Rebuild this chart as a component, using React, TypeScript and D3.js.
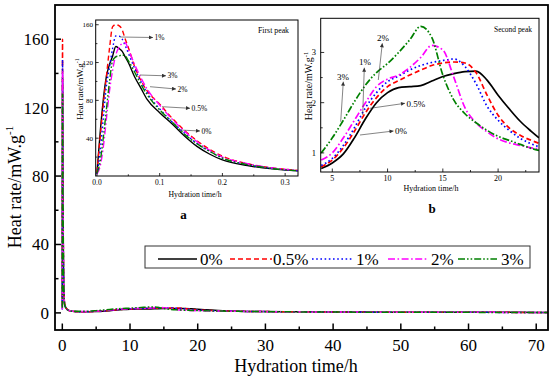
import React from "react";
import * as d3 from "d3";

const seriesNames = ["0%", "0.5%", "1%", "2%", "3%"];

// First peak (inset a), hours
const firstTimes = [0, 0.005, 0.01, 0.015, 0.02, 0.025, 0.03, 0.035, 0.04, 0.045, 0.05, 0.06, 0.07, 0.08, 0.1, 0.12, 0.14, 0.16, 0.18, 0.2, 0.24, 0.28, 0.32];
const first0 = [3, 45, 80, 105, 118, 127, 137, 135, 132, 126, 120, 105, 93, 81, 67, 55, 42, 31, 23, 17, 11, 7.5, 5.5];
const first05 = [4, 40, 75, 105, 135, 158, 160, 159, 155, 145, 136, 116, 101, 90, 76, 61, 48, 37, 28, 21, 13, 8.5, 6];
const first1 = [2, 25, 60, 95, 115, 135, 148, 148, 145, 138, 130, 114, 100, 88, 71, 57, 45, 34, 26, 19, 12, 8, 5.5];
const first2 = [2, 10, 30, 60, 90, 112, 128, 136, 140, 141, 134, 118, 104, 92, 75, 60, 47, 36, 27, 20, 13, 8.5, 6];
const first3 = [3, 15, 40, 70, 100, 122, 126, 127, 128, 127, 122, 110, 97, 86, 70, 57, 44, 34, 26, 19, 12, 8, 5.5];

// Between peaks
const earlyTimes = [0.4, 0.5, 0.75, 1, 1.5, 2, 3];
const early0 = [4.2, 3.2, 1.9, 1.3, 0.9, 0.7, 0.65];
const early05 = [4.5, 3.4, 2.0, 1.4, 0.95, 0.75, 0.68];
const early1 = [4.1, 3.1, 1.9, 1.35, 0.95, 0.78, 0.72];
const early2 = [4.5, 3.4, 2.0, 1.4, 1.0, 0.85, 0.82];
const early3 = [4.1, 3.1, 1.9, 1.35, 1.0, 0.9, 0.95];

// Second peak (inset b)
const secondTimes = [4, 5, 6, 7, 8, 9, 10, 11, 12, 13, 14, 15, 16, 17, 18, 19, 20, 21, 22, 23, 23.7];
const second0 = [0.69, 0.8, 0.98, 1.3, 1.68, 2.0, 2.2, 2.3, 2.32, 2.34, 2.43, 2.52, 2.58, 2.62, 2.63, 2.45, 2.15, 1.88, 1.63, 1.43, 1.3];
const second05 = [0.72, 0.86, 1.1, 1.43, 1.8, 2.1, 2.32, 2.44, 2.55, 2.65, 2.74, 2.79, 2.81, 2.79, 2.6, 2.15, 1.75, 1.5, 1.35, 1.25, 1.19];
const second1 = [0.75, 0.89, 1.15, 1.5, 1.9, 2.2, 2.42, 2.53, 2.65, 2.74, 2.8, 2.84, 2.87, 2.72, 2.38, 1.93, 1.65, 1.45, 1.29, 1.18, 1.12];
const second2 = [0.86, 1.0, 1.3, 1.65, 2.0, 2.32, 2.47, 2.55, 2.7, 2.9, 3.14, 3.05, 2.5, 1.9, 1.6, 1.42, 1.28, 1.2, 1.15, 1.1, 1.08];
const second3 = [1.0, 1.3, 1.65, 2.02, 2.35, 2.6, 2.78, 3.0, 3.25, 3.52, 3.3, 2.55, 2.05, 1.78, 1.6, 1.45, 1.33, 1.25, 1.17, 1.09, 1.05];

// Late tail
const lateTimes = [26, 30, 35, 40, 45, 50, 55, 60, 65, 70, 72];
const late0 = [1.0, 0.8, 0.65, 0.55, 0.48, 0.42, 0.38, 0.35, 0.32, 0.3, 0.3];
const late05 = [0.98, 0.78, 0.63, 0.53, 0.46, 0.41, 0.37, 0.34, 0.31, 0.29, 0.29];
const late1 = [0.95, 0.76, 0.62, 0.52, 0.45, 0.4, 0.36, 0.33, 0.3, 0.28, 0.28];
const late2 = [0.92, 0.74, 0.6, 0.5, 0.44, 0.39, 0.35, 0.32, 0.3, 0.28, 0.28];
const late3 = [0.9, 0.72, 0.58, 0.49, 0.43, 0.38, 0.34, 0.31, 0.29, 0.27, 0.27];

// Ticks
const mainXTicks = [0, 10, 20, 30, 40, 50, 60, 70];
const mainXMinor = [5, 15, 25, 35, 45, 55, 65];
const mainYTicks = [0, 40, 80, 120, 160];
const mainYMinor = [20, 60, 100, 140];
const aXTicks = [0, 0.1, 0.2, 0.3];
const aXMinor = [0.05, 0.15, 0.25];
const aYTicks = [40, 80, 120, 160];
const aYMinor = [20, 60, 100, 140];
const bXTicks = [5, 10, 15, 20];
const bXMinor = [7.5, 12.5, 17.5, 22.5];
const bYTicks = [1, 2, 3];
const bYMinor = [1.5, 2.5];

const firstVals = [first0, first05, first1, first2, first3];
const earlyVals = [early0, early05, early1, early2, early3];
const secondVals = [second0, second05, second1, second2, second3];
const lateVals = [late0, late05, late1, late2, late3];

const colors = ["#000000", "#ff0000", "#0000ff", "#ff00ff", "#008000"];
const dashes = ["none", "5,3", "1.6,2.6", "7,2.5,1.6,2.5", "7,2,1.6,2,1.6,2"];
const FONT = "'Liberation Serif','Times New Roman',serif";

type P = [number, number];

function zip(ts: number[], vs: number[]): P[] {
  return ts.map((t, i) => [t, vs[i]] as P);
}

export default function App() {
  const series = seriesNames.map((name, i) => {
    const first = zip(firstTimes, firstVals[i]);
    const second = zip(secondTimes, secondVals[i]);
    const all = [...first, ...zip(earlyTimes, earlyVals[i]), ...second, ...zip(lateTimes, lateVals[i])];
    return { name, first, second, all, color: colors[i], dash: dashes[i] };
  });

  // main scales
  const x = d3.scaleLinear().domain([-1.08, 71.74]).range([55, 548]);
  const y = d3.scaleLinear().domain([-10, 180]).range([330, 5]);
  // inset a
  const xa = d3.scaleLinear().domain([-0.002, 0.3205]).range([95.7, 298]);
  const ya = d3.scaleLinear().domain([0, 165]).range([176, 20]);
  // inset b
  const xb = d3.scaleLinear().domain([3.95, 23.7]).range([320.7, 539]);
  const yb = d3.scaleLinear().domain([0.62, 3.68]).range([172, 18.3]);

  const lineMain = d3.line<P>().x((d) => x(d[0])).y((d) => y(d[1])).curve(d3.curveMonotoneX);
  const lineA = d3.line<P>().x((d) => xa(d[0])).y((d) => ya(d[1])).curve(d3.curveMonotoneX);
  const lineB = d3.line<P>().x((d) => xb(d[0])).y((d) => yb(d[1])).curve(d3.curveMonotoneX);

  const legendItems = [
    { x1: 158, x2: 197, tx: 200 },
    { x1: 230, x2: 272, tx: 273 },
    { x1: 312, x2: 352, tx: 356 },
    { x1: 388, x2: 427, tx: 431 },
    { x1: 458, x2: 497, tx: 501 },
  ];

  const annA = [
    { t: "1%", x1: 120, y1: 37, x2: 153, y2: 37.5 },
    { t: "3%", x1: 140, y1: 75, x2: 166, y2: 75.8 },
    { t: "2%", x1: 150, y1: 86.7, x2: 176, y2: 89 },
    { t: "0.5%", x1: 162, y1: 106.7, x2: 190, y2: 108.3 },
    { t: "0%", x1: 180, y1: 130, x2: 200, y2: 131 },
  ];
  const annB = [
    { t: "3%", x1: 340.7, y1: 121.7, x2: 343.3, y2: 81.7, tx: 343, ty: 80 },
    { t: "1%", x1: 362.7, y1: 115, x2: 364.3, y2: 67.7, tx: 365, ty: 65 },
    { t: "2%", x1: 378.3, y1: 80, x2: 382.3, y2: 43.3, tx: 383, ty: 41 },
  ];
  const annBH = [
    { t: "0.5%", x1: 370, y1: 108.3, x2: 405, y2: 103.3, tx: 406.5, ty: 106.5 },
    { t: "0%", x1: 360, y1: 135, x2: 393.5, y2: 131, tx: 395, ty: 134 },
  ];

  return (
    <svg width={550} height={378} style={{ position: "absolute", left: 0, top: 0, background: "#fff" }} fontFamily={FONT}>
      <defs>
        <marker id="arr" viewBox="0 0 6 6" refX="6" refY="3" markerWidth="5" markerHeight="4" markerUnits="userSpaceOnUse" orient="auto">
          <path d="M0,0 L6,3 L0,6 z" fill="#333" />
        </marker>
        <clipPath id="clipMain"><rect x={55} y={5} width={493} height={325} /></clipPath>
        <clipPath id="clipA"><rect x={95.7} y={20} width={202.3} height={156} /></clipPath>
        <clipPath id="clipB"><rect x={320.7} y={18.3} width={218.3} height={153.7} /></clipPath>
      </defs>
      <rect x={0} y={0} width={550} height={378} fill="#fff" />

      {/* main curves */}
      <g clipPath="url(#clipMain)">
        {series.map((s) => (
          <path key={s.name} d={lineMain(s.all) || ""} fill="none" stroke={s.color} strokeWidth={1.5} strokeDasharray={s.dash} />
        ))}
      </g>

      {/* main axes */}
      <rect x={55} y={5} width={493} height={325} fill="none" stroke="#000" strokeWidth={1.8} />
      {mainXTicks.map((t) => (
        <g key={"mx" + t}>
          <line x1={x(t)} x2={x(t)} y1={330} y2={323.5} stroke="#000" strokeWidth={1.5} />
          <text x={x(t)} y={351} fontSize={17} textAnchor="middle">{t}</text>
        </g>
      ))}
      {mainXMinor.map((t) => (
        <line key={"mxm" + t} x1={x(t)} x2={x(t)} y1={330} y2={326.5} stroke="#000" strokeWidth={1.5} />
      ))}
      {mainYTicks.map((t) => (
        <g key={"my" + t}>
          <line x1={55} x2={61} y1={y(t)} y2={y(t)} stroke="#000" strokeWidth={1.5} />
          <text x={49} y={y(t) + 6} fontSize={17} textAnchor="end">{t}</text>
        </g>
      ))}
      {mainYMinor.map((t) => (
        <line key={"mym" + t} x1={55} x2={58.5} y1={y(t)} y2={y(t)} stroke="#000" strokeWidth={1.5} />
      ))}
      <text x={296} y={372} fontSize={18} textAnchor="middle">Hydration time/h</text>
      <text transform="translate(21,187) rotate(-90)" fontSize={18} textAnchor="middle">
        Heat rate/mW.g<tspan fontSize={11} dy={-8}>-1</tspan>
      </text>

      {/* legend */}
      <rect x={145} y={246} width={385} height={22} fill="#fff" stroke="#333" strokeWidth={1} />
      {series.map((s, i) => (
        <g key={"lg" + s.name}>
          <line x1={legendItems[i].x1} x2={legendItems[i].x2} y1={259} y2={259} stroke={s.color} strokeWidth={1.5} strokeDasharray={s.dash} />
          <text x={legendItems[i].tx} y={265} fontSize={17}>{s.name}</text>
        </g>
      ))}

      {/* inset a */}
      <rect x={95.7} y={20} width={202.3} height={156} fill="#fff" />
      <g clipPath="url(#clipA)">
        {series.map((s) => (
          <path key={"a" + s.name} d={lineA(s.first) || ""} fill="none" stroke={s.color} strokeWidth={1.4} strokeDasharray={s.dash} />
        ))}
      </g>
      <rect x={95.7} y={20} width={202.3} height={156} fill="none" stroke="#000" strokeWidth={1} />
      {aXTicks.map((t) => (
        <g key={"ax" + t}>
          <line x1={xa(t)} x2={xa(t)} y1={176} y2={173} stroke="#000" strokeWidth={0.8} />
          <text x={xa(t)} y={185} fontSize={7.5} textAnchor="middle">{t.toFixed(1)}</text>
        </g>
      ))}
      {aXMinor.map((t) => (
        <line key={"axm" + t} x1={xa(t)} x2={xa(t)} y1={176} y2={174.3} stroke="#000" strokeWidth={0.8} />
      ))}
      {aYTicks.map((t) => (
        <g key={"ay" + t}>
          <line x1={95.7} x2={98.7} y1={ya(t)} y2={ya(t)} stroke="#000" strokeWidth={0.8} />
          <text x={93} y={ya(t) + 2.5} fontSize={7} textAnchor="end">{t}</text>
        </g>
      ))}
      {aYMinor.map((t) => (
        <line key={"aym" + t} x1={95.7} x2={97.4} y1={ya(t)} y2={ya(t)} stroke="#000" strokeWidth={0.8} />
      ))}
      <text x={195} y={196.5} fontSize={8} textAnchor="middle" textLength={53} lengthAdjust="spacingAndGlyphs">Hydration time/h</text>
      <text transform="translate(83,89) rotate(-90)" fontSize={9} textAnchor="middle">
        Heat rate/mW.g<tspan fontSize={6} dy={-4}>-1</tspan>
      </text>
      <text x={258} y={33} fontSize={8.5} textLength={31} lengthAdjust="spacingAndGlyphs">First peak</text>
      <text x={183.5} y={219} fontSize={13} fontWeight="bold" textAnchor="middle">a</text>
      {annA.map((a) => (
        <g key={"an" + a.t}>
          <line x1={a.x1} y1={a.y1} x2={a.x2} y2={a.y2} stroke="#333" strokeWidth={0.6} markerEnd="url(#arr)" />
          <text x={a.x2 + 1.5} y={a.y2 + 2.5} fontSize={7.5}>{a.t}</text>
        </g>
      ))}

      {/* inset b */}
      <rect x={320.7} y={18.3} width={218.3} height={153.7} fill="#fff" />
      <g clipPath="url(#clipB)">
        {series.map((s) => (
          <path key={"b" + s.name} d={lineB(s.second) || ""} fill="none" stroke={s.color} strokeWidth={1.7} strokeDasharray={s.dash} />
        ))}
      </g>
      <rect x={320.7} y={18.3} width={218.3} height={153.7} fill="none" stroke="#000" strokeWidth={1} />
      {bXTicks.map((t) => (
        <g key={"bx" + t}>
          <line x1={xb(t)} x2={xb(t)} y1={172} y2={168.5} stroke="#000" strokeWidth={0.8} />
          <text x={xb(t)} y={181} fontSize={8} textAnchor="middle">{t}</text>
        </g>
      ))}
      {bXMinor.map((t) => (
        <line key={"bxm" + t} x1={xb(t)} x2={xb(t)} y1={172} y2={170} stroke="#000" strokeWidth={0.8} />
      ))}
      {bYTicks.map((t) => (
        <g key={"by" + t}>
          <line x1={320.7} x2={324.2} y1={yb(t)} y2={yb(t)} stroke="#000" strokeWidth={0.8} />
          <text x={316} y={yb(t) + 3} fontSize={8.5} textAnchor="end">{t}</text>
        </g>
      ))}
      {bYMinor.map((t) => (
        <line key={"bym" + t} x1={320.7} x2={322.7} y1={yb(t)} y2={yb(t)} stroke="#000" strokeWidth={0.8} />
      ))}
      <text x={431} y={190.5} fontSize={8.5} textAnchor="middle" textLength={55} lengthAdjust="spacingAndGlyphs">Hydration time/h</text>
      <text transform="translate(312,86) rotate(-90)" fontSize={10} textAnchor="middle">
        Heat rate/mW.g<tspan fontSize={6.5} dy={-4.5}>-1</tspan>
      </text>
      <text x={494} y={32} fontSize={9} textLength={38} lengthAdjust="spacingAndGlyphs">Second peak</text>
      <text x={432} y={213} fontSize={13} fontWeight="bold" textAnchor="middle">b</text>
      {annB.map((a) => (
        <g key={"bn" + a.t}>
          <line x1={a.x1} y1={a.y1} x2={a.x2} y2={a.y2} stroke="#333" strokeWidth={0.6} markerEnd="url(#arr)" />
          <text x={a.tx} y={a.ty} fontSize={9} textAnchor="middle">{a.t}</text>
        </g>
      ))}
      {annBH.map((a) => (
        <g key={"bh" + a.t}>
          <line x1={a.x1} y1={a.y1} x2={a.x2} y2={a.y2} stroke="#333" strokeWidth={0.6} markerEnd="url(#arr)" />
          <text x={a.tx} y={a.ty} fontSize={9}>{a.t}</text>
        </g>
      ))}
    </svg>
  );
}
